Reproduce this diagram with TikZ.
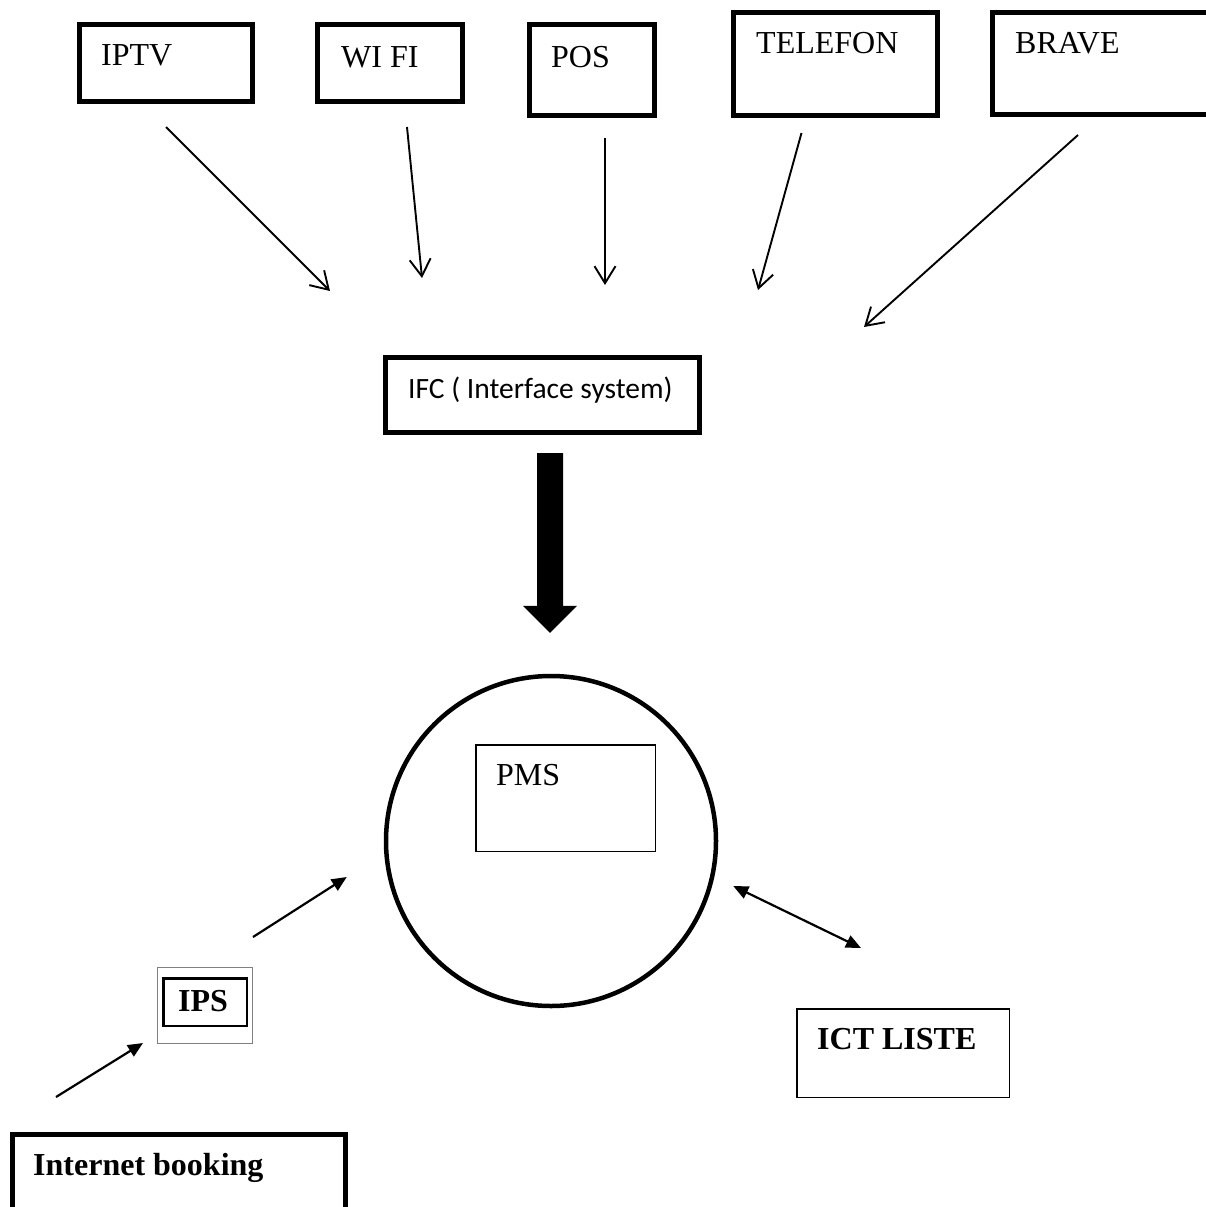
\documentclass[tikz,border=0pt]{standalone}
\usepackage{fontspec}
\setmainfont{Liberation Serif}
\newfontfamily\calibri{Carlito}
\usetikzlibrary{arrows.meta}

\tikzset{
  bigbox/.style={draw, line width=4.8pt, anchor=north west, inner sep=0pt},
  thinbox/.style={draw, line width=1.5pt, anchor=north west, inner sep=0pt},
  boxtext/.style={anchor=base west, inner sep=0pt, font=\fontsize{32}{38}\selectfont},
  feed/.style={line width=1.9pt, -{Straight Barb[length=17pt,width=21pt]}},
  link/.style={line width=2.2pt, >={Triangle[length=15pt,width=13pt]}}
}

\begin{document}
\begin{tikzpicture}[x=1pt, y=-1pt]

  \path[use as bounding box, fill=white] (0,0) rectangle (1205,1207);

  \node[bigbox, minimum width=173.2pt, minimum height=77.2pt, label={[boxtext, xshift=24pt, yshift=-44pt]north west:IPTV}] (iptv) at (77,22) {};
  \node[bigbox, minimum width=145.2pt, minimum height=77.2pt, label={[boxtext, xshift=26pt, yshift=-45pt]north west:WI FI}] (wifi) at (315,22) {};
  \node[bigbox, minimum width=125.2pt, minimum height=91.2pt, label={[boxtext, xshift=24pt, yshift=-45pt]north west:POS}] (pos) at (527,22) {};
  \node[bigbox, minimum width=204.2pt, minimum height=103.2pt, label={[boxtext, xshift=25pt, yshift=-43pt]north west:TELEFON}] (tel) at (731,10) {};
  \node[bigbox, minimum width=245.2pt, minimum height=102.2pt, label={[boxtext, xshift=25pt, yshift=-43pt]north west:BRAVE}] (brave) at (990,10) {};

  \coordinate (in1) at (330,291);
  \coordinate (in2) at (422,278);
  \coordinate (in3) at (605,285);
  \coordinate (in4) at (758,290);
  \coordinate (in5) at (864,327);

  \draw[feed] ([yshift=-23pt]iptv.south) -- (in1);
  \draw[feed] ([xshift=17pt, yshift=-23pt]wifi.south) -- (in2);
  \draw[feed] ([xshift=13pt, yshift=-20pt]pos.south) -- (in3);
  \draw[feed] ([xshift=-34pt, yshift=-15pt]tel.south) -- (in4);
  \draw[feed] ([xshift=88pt, yshift=-18pt]brave.south west) -- (in5);

  \node[bigbox, minimum width=314.2pt, minimum height=75.2pt, label={[boxtext, font=\calibri\fontsize{29.5}{35}\selectfont, xshift=25pt, yshift=-43pt]north west:IFC ( Interface system)}] (ifc) at (383,355) {};

  \node[draw, circle, line width=4.5pt, minimum size=330pt, inner sep=0pt] (hub) at (551,841) {};
  \node[thinbox, minimum width=179.5pt, minimum height=106.5pt, label={[boxtext, xshift=21pt, yshift=-41pt]north west:PMS}] (pms) at (475,744) {};

  \draw[line width=26pt, -{Triangle[length=27pt, width=54pt, line width=0pt]}] ([xshift=7.5pt, yshift=-18pt]ifc.south) -- ([xshift=-1pt, yshift=41pt]hub.north);

  \node[draw=gray, line width=1pt, anchor=north west, inner sep=0pt, minimum width=95pt, minimum height=76pt] (ips) at (157,967) {};
  \node[draw, line width=2.5pt, anchor=north west, inner sep=0pt, minimum width=83.5pt, minimum height=47.5pt, label={[boxtext, font=\bfseries\fontsize{32}{38}\selectfont, xshift=16pt, yshift=-34pt]north west:IPS}] (ipsbox) at (162,977) {};
  \node[bigbox, minimum width=333.2pt, minimum height=135pt, label={[boxtext, font=\bfseries\fontsize{32}{38}\selectfont, xshift=23pt, yshift=-43pt]north west:Internet booking}] (booking) at (10,1132) {};
  \node[thinbox, minimum width=212.5pt, minimum height=88.5pt, label={[boxtext, font=\bfseries\fontsize{32}{38}\selectfont, xshift=21pt, yshift=-41pt]north west:ICT LISTE}] (ict) at (796,1008) {};

  \draw[link, ->] ([xshift=46pt, yshift=35pt]booking.north west) -- ([xshift=-14pt, yshift=1pt]ips.south west);
  \draw[link, ->] ([yshift=30pt]ips.north east) -- ([xshift=-37pt, yshift=-36pt]hub.west);
  \draw[link, <->] ([xshift=15pt, yshift=-45pt]hub.east) -- ([xshift=65pt, yshift=60pt]ict.north west);

\end{tikzpicture}
\end{document}
